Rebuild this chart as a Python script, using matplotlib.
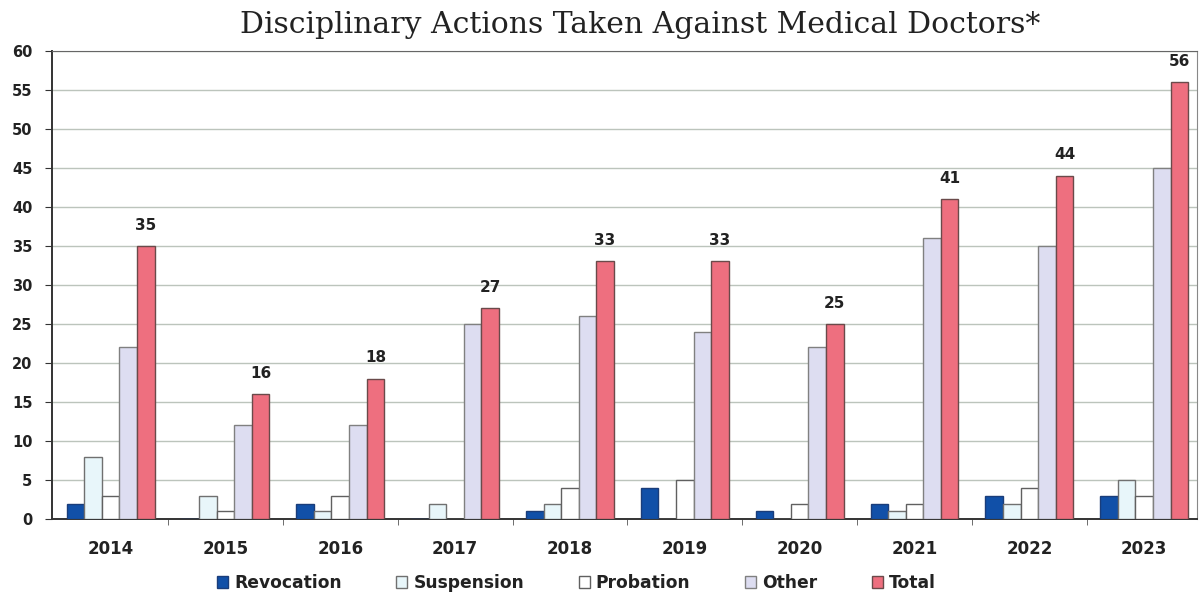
import matplotlib
matplotlib.use("Agg")
import matplotlib.pyplot as plt
import numpy as np

years = ["2014", "2015", "2016", "2017", "2018", "2019", "2020", "2021", "2022", "2023"]
revocation = [2, 0, 2, 0, 1, 4, 1, 2, 3, 3]
suspension = [8, 3, 1, 2, 2, 0, 0, 1, 2, 5]
probation = [3, 1, 3, 0, 4, 5, 2, 2, 4, 3]
other = [22, 12, 12, 25, 26, 24, 22, 36, 35, 45]
total = [35, 16, 18, 27, 33, 33, 25, 41, 44, 56]

series = [
    ("Revocation", revocation, "#1150A8", "#1a3d7a"),
    ("Suspension", suspension, "#E8F6FA", "#707070"),
    ("Probation", probation, "#FFFFFF", "#606060"),
    ("Other", other, "#DDDDF1", "#808080"),
    ("Total", total, "#EE6F7F", "#6a4a4a"),
]

fig = plt.figure(figsize=(12.01, 5.96), dpi=100)
ax = fig.add_axes([0.0433, 0.129, 0.9534, 0.786])

x = np.arange(len(years))
w = 0.153
for i, (name, vals, fc, ec) in enumerate(series):
    ax.bar(x + (i - 2) * w, vals, width=w, color=fc, edgecolor=ec, linewidth=1.0,
           label=name, zorder=3)

for xi, v in zip(x, total):
    ax.text(xi + 2 * w, v + 1.7, str(v), ha="center", va="bottom",
            fontsize=11, fontweight="bold", color="#222222")

ax.set_ylim(0, 60)
ax.set_xlim(-0.51, 9.46)
ax.set_yticks(range(0, 61, 5))
ax.set_yticklabels([str(v) for v in range(0, 61, 5)], fontsize=10.5, fontweight="bold", color="#222222")
ax.set_xticks(x)
ax.set_xticklabels(years, fontsize=12, fontweight="bold", color="#222222")
ax.tick_params(axis="x", length=0, pad=15)
ax.tick_params(axis="y", length=5, direction="out", pad=9, color="#333333")
ax.set_xticks(x[:-1] + 0.5, minor=True)
ax.tick_params(axis="x", which="minor", length=4, direction="out", color="#555555")

ax.yaxis.grid(True, color="#bcc4bc", linewidth=1.0, zorder=0)
ax.set_axisbelow(True)
ax.spines["top"].set_color("#666666")
ax.spines["right"].set_color("#888888")
ax.spines["left"].set_color("#333333")
ax.spines["bottom"].set_color("#333333")
ax.spines["left"].set_linewidth(1.4)
ax.spines["bottom"].set_linewidth(1.4)

fig.text(0.533, 1 - 33 / 596, "Disciplinary Actions Taken Against Medical Doctors*", ha="center",
         va="baseline", fontsize=21.5, family="DejaVu Serif", color="#222222")

leg = fig.legend(loc="center", bbox_to_anchor=(0.48, 0.022), ncol=5, frameon=False,
                 handlelength=0.65, handleheight=0.65, handletextpad=0.35, columnspacing=3.2,
                 prop={"weight": "bold", "size": 12.3})
for t in leg.get_texts():
    t.set_color("#222222")

fig.savefig("out.png", dpi=100)
